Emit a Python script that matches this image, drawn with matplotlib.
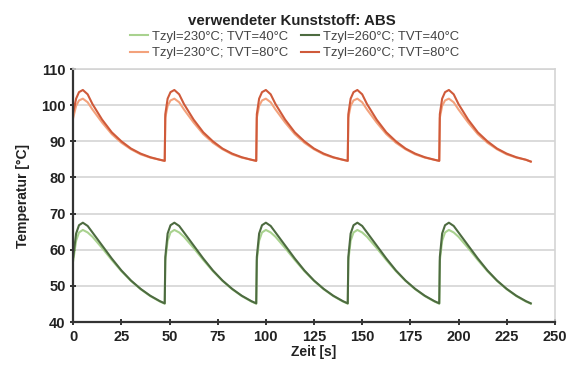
import matplotlib
matplotlib.use("Agg")
import matplotlib.pyplot as plt

plt.rcParams['font.family'] = ['Liberation Sans', 'DejaVu Sans']

title = "verwendeter Kunststoff: ABS"
xlabel = "Zeit [s]"
ylabel = "Temperatur [°C]"
labels = ["Tzyl=230°C; TVT=40°C", "Tzyl=260°C; TVT=40°C",
          "Tzyl=230°C; TVT=80°C", "Tzyl=260°C; TVT=80°C"]
colors = ["#a9d28f", "#4d6b40", "#f3a27c", "#cf5a3a"]

t = [0, 1.5, 3, 5, 7.5, 10, 15, 20, 25, 30, 35, 40, 45, 47.5,
     47.8, 49, 50.5, 52.5, 55, 57.5, 62.5, 67.5, 72.5, 77.5, 82.5, 87.5, 92.5, 95,
     95.3, 96.5, 98, 100, 102.5, 105, 110, 115, 120, 125, 130, 135, 140, 142.5,
     142.8, 144, 145.5, 147.5, 150, 152.5, 157.5, 162.5, 167.5, 172.5, 177.5, 182.5, 187.5, 190,
     190.3, 191.5, 193, 195, 197.5, 200, 205, 210, 215, 220, 225, 230, 235, 237.5]

g230 = [57, 62.5, 64.8, 65.5, 64.8, 63.6, 60.5, 57.2, 54.1, 51.4, 49.1, 47.2, 45.7, 45.1,
        57, 62.5, 64.8, 65.5, 64.8, 63.6, 60.5, 57.2, 54.1, 51.4, 49.1, 47.2, 45.7, 45.1,
        57, 62.5, 64.8, 65.5, 64.8, 63.6, 60.5, 57.2, 54.1, 51.4, 49.1, 47.2, 45.7, 45.1,
        57, 62.5, 64.8, 65.5, 64.8, 63.6, 60.5, 57.2, 54.1, 51.4, 49.1, 47.2, 45.7, 45.1,
        57, 62.5, 64.8, 65.5, 64.8, 63.6, 60.5, 57.2, 54.1, 51.4, 49.1, 47.2, 45.7, 45.1]
g260 = [58, 64.5, 66.8, 67.5, 66.6, 64.8, 61.2, 57.6, 54.3, 51.5, 49.2, 47.3, 45.8, 45.2,
        58, 64.5, 66.8, 67.5, 66.6, 64.8, 61.2, 57.6, 54.3, 51.5, 49.2, 47.3, 45.8, 45.2,
        58, 64.5, 66.8, 67.5, 66.6, 64.8, 61.2, 57.6, 54.3, 51.5, 49.2, 47.3, 45.8, 45.2,
        58, 64.5, 66.8, 67.5, 66.6, 64.8, 61.2, 57.6, 54.3, 51.5, 49.2, 47.3, 45.8, 45.2,
        58, 64.5, 66.8, 67.5, 66.6, 64.8, 61.2, 57.6, 54.3, 51.5, 49.2, 47.3, 45.8, 45.2]
r230 = [96.5, 99.8, 101.3, 101.8, 100.8, 98.8, 95.2, 92, 89.6, 87.8, 86.4, 85.5, 84.9, 84.6,
        96.5, 99.8, 101.3, 101.8, 100.8, 98.8, 95.2, 92, 89.6, 87.8, 86.4, 85.5, 84.9, 84.6,
        96.5, 99.8, 101.3, 101.8, 100.8, 98.8, 95.2, 92, 89.6, 87.8, 86.4, 85.5, 84.9, 84.6,
        96.5, 99.8, 101.3, 101.8, 100.8, 98.8, 95.2, 92, 89.6, 87.8, 86.4, 85.5, 84.9, 84.6,
        96.5, 99.8, 101.3, 101.8, 100.8, 98.8, 95.2, 92, 89.6, 87.8, 86.4, 85.5, 84.9, 84.4]
r260 = [98, 101.8, 103.6, 104.2, 103, 100.3, 96, 92.5, 90, 88, 86.6, 85.6, 84.9, 84.6,
        97.5, 101.8, 103.6, 104.2, 103, 100.3, 96, 92.5, 90, 88, 86.6, 85.6, 84.9, 84.6,
        97.5, 101.8, 103.6, 104.2, 103, 100.3, 96, 92.5, 90, 88, 86.6, 85.6, 84.9, 84.6,
        97.5, 101.8, 103.6, 104.2, 103, 100.3, 96, 92.5, 90, 88, 86.6, 85.6, 84.9, 84.6,
        97.5, 101.8, 103.6, 104.2, 103, 100.3, 96, 92.5, 90, 88, 86.6, 85.6, 84.9, 84.4]

xticks = [0, 25, 50, 75, 100, 125, 150, 175, 200, 225, 250]
yticks = [40, 50, 60, 70, 80, 90, 100, 110]

fig = plt.figure(figsize=(5.72, 3.69), dpi=100)
ax = fig.add_axes([0.128, 0.127, 0.842, 0.686])

series = [g230, g260, r230, r260]
handles = []
for vals, c, lab in zip(series, colors, labels):
    h, = ax.plot(t, vals, color=c, lw=1.5, label=lab)
    handles.append(h)

ax.set_xlim(0, 250)
ax.set_ylim(40, 110)
ax.set_xticks(xticks)
ax.set_yticks(yticks)
ax.yaxis.grid(True, color="#d4d4d4", lw=1.2)
ax.set_axisbelow(True)
for s in ["top", "right"]:
    ax.spines[s].set_color("#d4d4d4")
    ax.spines[s].set_linewidth(1.2)
for s in ["left", "bottom"]:
    ax.spines[s].set_color("#333333")
    ax.spines[s].set_linewidth(1.6)
ax.tick_params(direction="inout", length=5, width=1.4, color="#333333",
               labelsize=10.5, labelcolor="#222222", pad=3)
for lbl in ax.get_xticklabels() + ax.get_yticklabels():
    lbl.set_fontweight("bold")
ax.set_xlabel(xlabel, fontsize=10, fontweight="bold", color="#222222", labelpad=1)
ax.set_ylabel(ylabel, fontsize=10, fontweight="bold", color="#222222", labelpad=8)

fig.text(0.51, 0.942, title, ha="center", va="center", fontsize=10.8,
         fontweight="bold", color="#222222")
# column-wise fill: col1 = 230°C entries, col2 = 260°C entries
order = [0, 2, 1, 3]
fig.legend(handles=[handles[i] for i in order], loc="center",
           bbox_to_anchor=(0.515, 0.878), ncol=2,
           frameon=False, fontsize=9.4, handlelength=1.4, handletextpad=0.3,
           columnspacing=1.0, labelspacing=0.3, labelcolor="#444444")

fig.savefig("out.png", dpi=100)
